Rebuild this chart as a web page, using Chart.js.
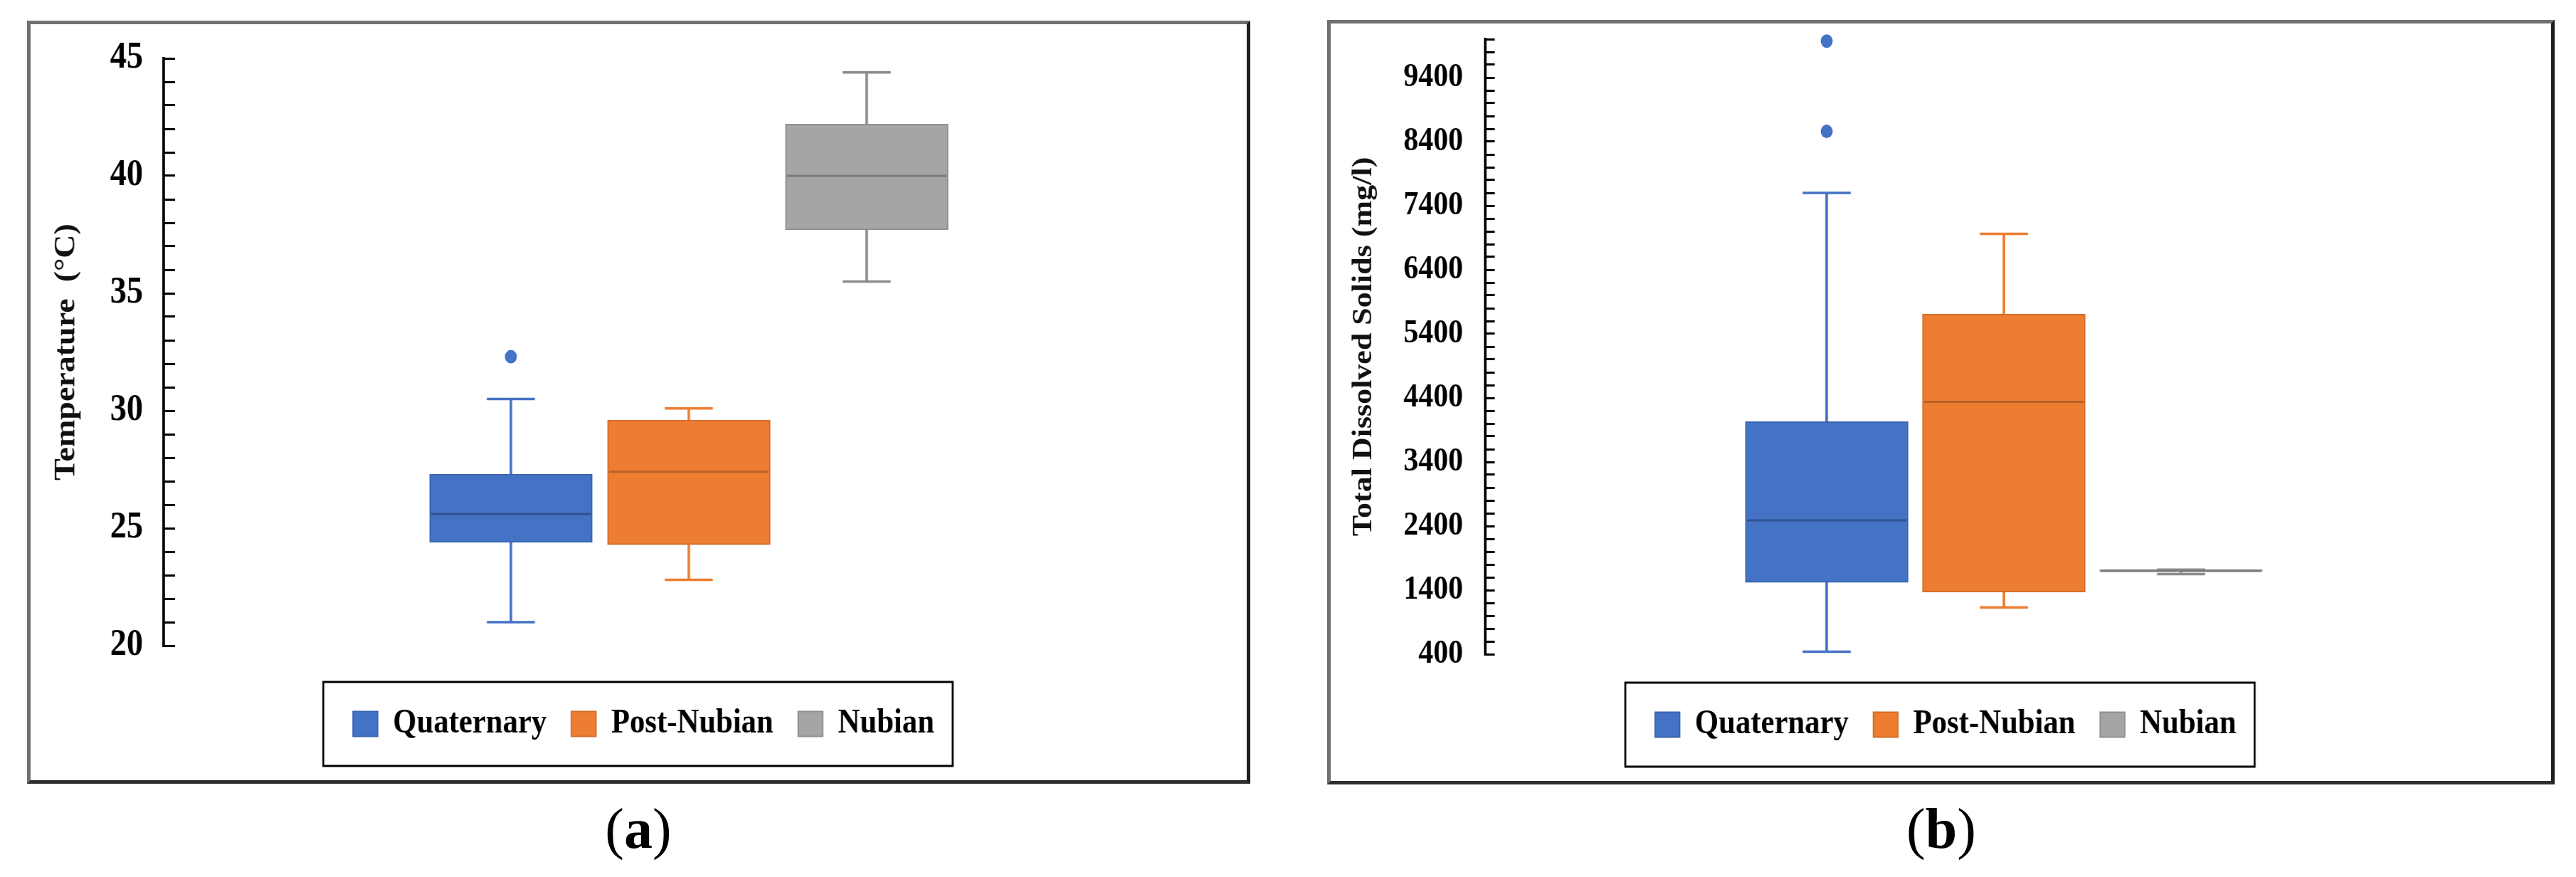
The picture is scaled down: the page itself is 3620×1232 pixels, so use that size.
<!DOCTYPE html>
<html><head><meta charset="utf-8">
<script src="https://cdn.jsdelivr.net/npm/chart.js@4.4.1/dist/chart.umd.min.js"></script>
<style>
html,body{margin:0;padding:0;background:#fff;}
body{width:3620px;height:1232px;position:relative;overflow:hidden;}
.frame{position:absolute;box-sizing:border-box;border-style:solid;border-width:5px;border-color:#707070 #1e1e1e #2e2e2e #707070;}
.wrap{position:absolute;transform:scaleX(0.89);transform-origin:0 0;}
.wrap canvas{display:block;}
.cap{position:absolute;width:300px;text-align:center;font-family:'Liberation Serif',serif;font-size:80px;line-height:80px;color:#000;}
</style></head><body>
<div class="frame" style="left:38px;top:29px;width:1719px;height:1072px"></div>
<div class="frame" style="left:1865px;top:28px;width:1725px;height:1074px"></div>
<div class="wrap" style="left:43px;top:34px"><canvas id="ca" width="1920" height="1062"></canvas></div>
<div class="wrap" style="left:1870px;top:33px"><canvas id="cb" width="1927" height="1064"></canvas></div>
<div class="cap" style="left:747px;top:1124px">(<b>a</b>)</div>
<div class="cap" style="left:2578px;top:1124px">(<b>b</b>)</div>
<script>
// ---- data ----
const categories = ['Quaternary', 'Post-Nubian', 'Nubian'];

const tempMin = [21.0, 22.8, 35.5];
const tempQ1 = [24.4, 24.3, 37.7];
const tempMedian = [25.6, 27.4, 40.0];
const tempQ3 = [27.3, 29.6, 42.2];
const tempMax = [30.5, 30.1, 44.4];
const tempOutliers = [[32.3], [], []];
const tempTickLabels = [20, 25, 30, 35, 40, 45];

const tdsMin = [440, 1130, 1650];
const tdsQ1 = [1520, 1370, 1690];
const tdsMedian = [2490, 4340, 1700];
const tdsQ3 = [4030, 5710, 1720];
const tdsMax = [7600, 6960, 1720];
const tdsOutliers = [[8560, 9970], [], []];
const tdsTickLabels = [400, 1400, 2400, 3400, 4400, 5400, 6400, 7400, 8400, 9400];

// ---- styles ----
const fillColors = ['#4472C4', '#ED7D31', '#A5A5A5'];
const edgeColors = ['#3A64AE', '#D26E29', '#8F8F8F'];
const medianColors = ['#2F528F', '#B8612A', '#7A7A7A'];
const whiskerColors = ['#4472C4', '#ED7D31', '#8C8C8C'];

Chart.defaults.font.family = "'Liberation Serif', serif";

const legendFrame = {
  id: 'legendFrame',
  afterDraw(chart, args, opts) {
    const lg = chart.legend;
    if (!lg || !lg.legendHitBoxes || !lg.legendHitBoxes.length) return;
    const hb = lg.legendHitBoxes;
    const left = Math.min(...hb.map(h => h.left)) - opts.padLeft;
    const right = Math.max(...hb.map(h => h.left + h.width)) + opts.padRight;
    const cy = hb[0].top + hb[0].height / 2;
    const ctx = chart.ctx;
    ctx.save();
    ctx.strokeStyle = '#000';
    ctx.lineWidth = 3;
    ctx.strokeRect(left, cy - opts.halfH, right - left, 2 * opts.halfH);
    ctx.restore();
  }
};

function pick(arr, fallback) {
  return ctx => (ctx.raw ? arr[ctx.raw.x - 1] : fallback);
}

function buildDatasets(mins, q1s, medians, q3s, maxs, outliers) {
  const xs = categories.map((c, i) => i + 1);
  const ds = [];
  categories.forEach((name, i) => {
    ds.push({
      type: 'bar', label: name,
      data: [{x: xs[i], y: [q1s[i], q3s[i]]}],
      backgroundColor: fillColors[i], borderColor: edgeColors[i], borderWidth: 2,
      borderSkipped: false, grouped: false, barThickness: 257, order: 1
    });
  });
  categories.forEach((name, i) => {
    ds.push({
      type: 'bar', label: name + ' whisker',
      data: [{x: xs[i], y: [mins[i], maxs[i]]}],
      backgroundColor: whiskerColors[i], borderWidth: 0,
      grouped: false, barThickness: 3.4, order: 3
    });
  });
  ds.push({
    type: 'scatter', label: 'caps',
    data: categories.flatMap((c, i) => [{x: xs[i], y: mins[i]}, {x: xs[i], y: maxs[i]}]),
    pointStyle: 'line', pointRadius: 38, pointBorderWidth: 3.5,
    pointBorderColor: pick(whiskerColors, '#000'), order: 2, clip: false
  });
  ds.push({
    type: 'scatter', label: 'medians',
    data: categories.map((c, i) => ({x: xs[i], y: medians[i]})),
    pointStyle: 'line', pointRadius: 126, pointBorderWidth: 3,
    pointBorderColor: pick(medianColors, '#000'), order: 0, clip: false
  });
  ds.push({
    type: 'scatter', label: 'outliers',
    data: categories.flatMap((c, i) => outliers[i].map(v => ({x: xs[i], y: v}))),
    pointStyle: 'circle', pointRadius: 9.5, pointBorderWidth: 0,
    pointBackgroundColor: pick(fillColors, '#000'), order: 0, clip: false
  });
  return ds;
}

function makeOptions(cfg) {
  return {
    responsive: false, animation: false, devicePixelRatio: 1, events: [],
    layout: {autoPadding: false, padding: {left: cfg.padL, right: cfg.padR, top: cfg.padT, bottom: 45}},
    scales: {
      x: {
        type: 'linear', min: cfg.xMin, max: cfg.xMax, offset: false, display: true,
        grid: {display: false}, border: {display: false}, ticks: {display: false},
        afterFit: s => { s.height = cfg.xH; }
      },
      y: {
        type: 'linear', min: cfg.yMin, max: cfg.yMax, beginAtZero: false,
        grid: {display: true, drawOnChartArea: false, drawTicks: true, tickLength: cfg.tickLen, tickWidth: 3, tickColor: '#000'},
        border: {display: true, color: '#000', width: 4},
        ticks: {
          stepSize: cfg.step, autoSkip: false, padding: cfg.labelPad, color: '#000',
          font: {weight: 'bold', size: cfg.tickSize, lineHeight: 0.9},
          callback: v => (cfg.labels.includes(v) ? String(v) : '')
        },
        title: {
          display: true, text: cfg.title, color: '#111',
          font: {weight: 'bold', size: cfg.titleSize},
          padding: {top: cfg.titlePad, bottom: 0}
        },
        afterFit: s => { s.width = cfg.yW; s.paddingTop = 0; s.paddingBottom = 0; }
      }
    },
    plugins: {
      tooltip: {enabled: false},
      legend: {
        display: true, position: 'bottom', align: 'center',
        labels: {
          boxWidth: 39, boxHeight: 35, padding: 39, color: '#000',
          font: {weight: 'bold', size: 48},
          filter: item => item.datasetIndex < 3
        }
      },
      legendFrame: {padLeft: 47, padRight: 29, halfH: 59}
    }
  };
}

new Chart(document.getElementById('ca'), {
  type: 'bar',
  data: {datasets: buildDatasets(tempMin, tempQ1, tempMedian, tempQ3, tempMax, tempOutliers)},
  options: makeOptions({
    padL: 72, padR: 56, padT: 48, xH: 47, yW: 138,
    xMin: -0.952, xMax: 4.936, yMin: 20, yMax: 45, step: 1,
    tickLen: -18, labelPad: 50.6, tickSize: 52, labels: tempTickLabels,
    title: 'Temperature  (\u00B0C)', titleSize: 46, titlePad: -42.3
  }),
  plugins: [legendFrame]
});

new Chart(document.getElementById('cb'), {
  type: 'bar',
  data: {datasets: buildDatasets(tdsMin, tdsQ1, tdsMedian, tdsQ3, tdsMax, tdsOutliers)},
  options: makeOptions({
    padL: 61, padR: 46, padT: 22, xH: 36, yW: 183,
    xMin: -0.927, xMax: 4.924, yMin: 400, yMax: 10000, step: 200,
    tickLen: -15, labelPad: 50, tickSize: 47, labels: tdsTickLabels,
    title: 'Total Dissolved Solids (mg/l)', titleSize: 44, titlePad: -34.6
  }),
  plugins: [legendFrame]
});
</script>
</body></html>
